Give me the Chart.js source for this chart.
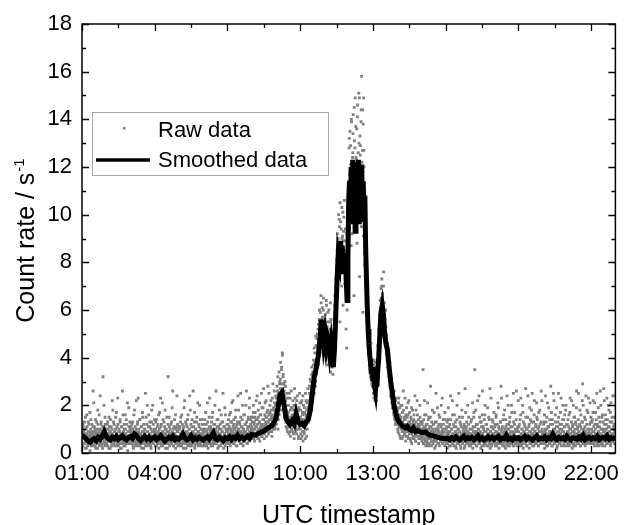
<!DOCTYPE html>
<html>
<head>
<meta charset="utf-8">
<script src="https://cdn.jsdelivr.net/npm/chart.js@4.4.1/dist/chart.umd.min.js"></script>
<style>
html,body{margin:0;padding:0;background:#fff;}
canvas{display:block;}
</style>
</head>
<body>
<canvas id="c" width="627" height="525"></canvas>
<script>
// ---------- DATA ----------
const xTickLabels = ['01:00','04:00','07:00','10:00','13:00','16:00','19:00','22:00'];
const yTickValues = [0,2,4,6,8,10,12,14,16,18];
const xTitle = 'UTC timestamp';
const yTitle = 'Count rate / s';
const yTitleSup = '-1';
const legendLabels = ['Raw data','Smoothed data'];

// raw count rate, set A: one value per minute starting at HH:00
const raw01 = [0.5,0.9,0.3,1.1,0.7,0.4,1.3,0.6,0.8,0.2,1.0,0.5,1.6,0.7,0.3,0.9,0.6,1.2,0.4,0.8,0.1,0.7,1.4,0.5,0.9,0.6,0.3,1.1,0.8,2.1,0.4,0.7,1.0,0.5,0.2,0.9,1.3,0.6,0.4,1.8,0.7,0.5,1.0,0.3,0.8,2.4,0.6,1.2,0.4,0.9,0.7,0.2,3.2,0.6,1.1,0.5,0.8,1.5,0.3,0.7];
const raw02 = [0.8,0.4,1.2,0.6,0.3,1.0,0.7,1.5,0.5,0.9,0.2,0.6,1.1,0.8,0.4,2.2,0.7,0.5,1.3,0.6,0.9,0.3,0.7,1.0,0.5,1.7,0.8,0.4,0.6,1.2,0.3,0.9,0.5,0.7,1.4,0.2,0.8,0.6,1.1,0.4,2.6,0.7,0.5,0.9,0.3,1.0,0.6,1.6,0.8,0.4,0.7,1.2,0.5,0.1,0.9,0.6,1.9,0.7,0.4,1.0];
const raw03 = [0.6,1.1,0.4,0.8,0.5,1.3,0.7,0.2,0.9,0.6,1.8,0.5,0.8,0.3,1.0,0.7,0.4,1.2,0.6,2.3,0.9,0.5,0.7,1.4,0.3,0.8,0.6,1.1,0.4,0.7,1.5,0.5,0.9,0.2,0.6,1.0,0.8,2.5,0.4,0.7,1.2,0.5,0.3,0.9,0.6,1.6,0.7,0.4,1.1,0.8,0.5,0.2,1.3,0.6,0.9,2.0,0.4,0.7,1.0,0.6];
const raw04 = [0.7,0.3,1.0,0.6,1.4,0.5,0.8,0.4,1.2,0.9,0.2,0.6,1.7,0.7,0.5,1.1,0.3,0.8,0.6,2.1,0.4,0.9,0.7,1.3,0.5,0.6,1.0,0.2,0.8,0.5,1.5,0.7,0.4,3.2,0.6,0.9,1.1,0.3,0.7,0.5,1.2,0.8,0.4,1.9,0.6,0.7,0.3,1.0,0.5,1.4,0.8,0.6,0.2,1.1,0.7,2.4,0.5,0.9,0.4,0.6];
const raw05 = [0.5,1.0,0.7,0.3,1.3,0.6,0.8,1.6,0.4,0.9,0.6,0.2,1.1,0.7,2.2,0.5,0.8,0.4,1.2,0.6,0.9,1.4,0.3,0.7,0.5,1.0,0.8,0.6,1.8,0.4,0.7,0.3,1.1,0.6,0.9,2.6,0.5,0.8,1.3,0.2,0.6,1.0,0.7,0.4,1.5,0.8,0.5,0.9,0.3,1.2,0.7,2.0,0.6,0.4,1.0,0.8,0.5,1.4,0.7,0.3];
const raw06 = [0.8,0.5,1.2,0.6,0.3,1.0,1.7,0.7,0.4,0.9,0.6,1.3,0.2,0.8,0.5,1.1,2.3,0.7,0.4,1.0,0.6,0.9,1.5,0.3,0.7,0.5,1.2,0.8,0.6,2.0,0.4,1.0,0.7,0.5,1.4,0.9,0.2,0.6,1.1,0.8,1.8,0.5,0.7,0.3,1.0,0.6,1.3,0.9,0.4,2.5,0.7,0.5,1.1,0.8,0.3,1.6,0.6,0.9,0.4,1.0];
const raw07 = [0.6,1.2,0.8,0.4,1.0,1.6,0.7,0.3,1.3,0.9,0.5,2.1,0.8,0.6,1.1,0.4,1.4,0.7,1.0,0.5,1.8,0.9,0.3,1.2,0.7,0.6,2.4,0.8,1.0,0.5,1.3,0.7,0.4,1.5,0.9,0.6,1.1,2.0,0.8,0.3,1.0,0.7,1.6,0.5,1.2,0.9,0.6,2.6,0.8,0.4,1.1,1.4,0.7,0.5,1.9,0.9,0.6,1.2,0.8,1.5];
const raw08 = [0.9,1.3,0.6,1.0,1.7,0.7,1.2,0.5,1.5,0.8,1.1,2.2,0.7,1.4,0.9,0.6,1.8,1.0,0.8,1.3,0.5,1.6,1.1,0.9,2.5,0.7,1.2,1.0,1.9,0.8,1.4,0.6,1.1,2.1,0.9,1.5,1.2,0.7,1.7,1.0,2.8,1.3,0.8,1.6,1.1,2.0,0.9,1.4,1.8,1.2,0.7,2.3,1.5,1.0,1.9,1.3,2.6,1.1,1.6,2.0];
const raw09 = [1.8,1.2,2.1,1.5,2.6,1.0,1.9,2.4,1.6,2.9,2.2,3.1,1.8,2.7,3.6,2.3,4.1,2.9,3.3,2.0,2.6,1.7,3.0,1.4,2.2,1.1,1.8,2.5,0.9,1.6,1.2,2.0,0.8,1.5,1.1,2.3,0.7,1.4,1.9,1.0,1.6,0.9,2.2,1.3,1.8,0.6,2.7,1.5,1.1,2.0,1.3,0.8,1.7,2.4,1.0,1.5,0.7,1.9,1.2,2.1];
const raw10 = [1.0,1.8,0.6,1.4,2.2,0.9,1.6,0.5,2.0,1.3,0.8,1.7,1.2,2.5,1.0,1.5,0.7,2.1,1.4,1.9,1.3,2.2,1.6,2.8,1.9,2.4,3.0,2.1,3.3,2.6,2.3,3.4,2.8,3.9,3.1,2.5,4.2,3.6,3.0,4.5,3.3,4.8,3.9,4.4,5.2,3.7,4.6,5.6,4.1,5.0,5.9,4.6,6.3,5.3,4.9,5.7,4.2,6.0,5.1,4.4];
const raw11 = [5.3,4.1,5.8,4.6,3.9,6.2,4.8,5.5,3.7,5.0,4.4,6.0,3.8,5.2,4.7,3.4,5.6,4.2,4.9,3.6,4.6,3.3,4.0,5.1,4.4,5.9,6.6,5.4,7.3,6.8,8.1,7.0,9.2,7.8,8.6,10.0,8.3,9.5,5.5,8.8,9.7,7.6,8.4,10.3,8.0,9.1,6.2,8.9,9.9,7.8,8.5,7.3,9.4,6.8,8.1,4.4,6.0,8.7,9.6,10.8];
const raw12 = [11.2,12.8,9.4,13.5,10.6,12.1,8.7,13.9,11.5,10.0,12.6,14.2,10.9,6.6,13.1,11.8,14.9,10.3,12.4,9.6,13.6,11.0,14.6,12.2,10.5,15.1,11.7,7.4,13.3,12.9,10.8,14.4,15.8,11.4,12.7,5.9,13.8,14.9,12.0,8.4,9.2,10.4,7.5,8.1,6.3,7.0,5.4,6.1,4.9,5.6,4.3,3.7,5.0,4.1,3.2,4.6,3.5,2.9,3.8,3.3];
const raw13 = [3.4,2.5,3.9,2.8,3.1,2.2,3.6,2.7,3.3,2.4,3.9,3.2,4.5,3.7,5.2,4.6,5.8,5.0,6.4,5.6,6.9,5.9,7.3,6.1,6.7,5.5,7.0,5.8,6.3,5.1,5.6,4.7,5.3,4.2,4.9,3.9,4.6,4.0,3.5,4.3,3.4,3.0,3.8,2.7,3.2,2.5,2.9,2.1,2.6,2.3,1.9,2.4,1.6,2.1,1.4,1.8,2.2,1.3,1.7,1.5];
const raw14 = [1.2,1.8,0.9,1.5,2.3,1.1,1.6,0.7,1.4,2.0,1.0,1.3,0.6,1.7,1.1,2.6,0.9,1.2,1.5,0.8,1.4,0.5,1.1,1.9,0.9,1.2,0.7,1.6,1.0,2.2,0.8,1.3,0.6,1.1,1.5,0.9,0.4,1.2,1.8,0.7,1.0,1.4,0.6,0.9,2.4,1.1,0.5,1.3,0.8,1.0,1.6,0.7,1.2,0.4,0.9,1.1,2.0,0.6,1.3,0.8];
const raw15 = [0.9,0.5,1.3,0.7,3.5,0.4,1.1,0.8,1.6,0.6,1.0,0.3,1.2,0.9,0.5,2.1,0.7,1.4,0.6,1.0,0.4,0.8,1.5,0.6,1.1,0.3,0.9,1.8,0.7,0.5,1.2,0.6,0.9,0.2,1.3,0.7,2.5,0.5,1.0,0.8,0.4,1.1,0.6,1.6,0.9,0.3,0.7,1.2,0.5,2.0,0.8,0.6,1.0,0.4,1.4,0.7,0.5,0.9,1.7,0.6];
const raw16 = [0.7,0.4,1.1,0.6,0.2,0.9,1.4,0.5,0.8,0.3,1.2,0.6,2.4,0.7,0.5,1.0,0.4,1.6,0.8,0.6,0.3,1.1,0.7,0.5,1.3,0.9,0.2,0.6,2.0,0.8,0.5,1.0,0.4,0.7,1.5,0.6,0.3,1.2,0.8,0.5,1.8,0.7,0.4,0.9,0.6,1.1,0.2,0.8,2.7,0.5,1.0,0.6,1.3,0.4,0.7,0.9,0.5,1.5,0.3,0.8];
const raw17 = [0.6,1.0,0.3,0.8,1.4,0.5,0.7,0.2,1.1,0.6,1.7,0.4,3.5,0.9,0.5,0.7,1.2,0.3,0.8,2.2,0.6,1.0,0.4,0.7,1.5,0.5,0.9,0.2,1.3,0.6,0.8,2.6,0.5,1.1,0.7,0.3,0.9,1.6,0.6,0.4,1.2,0.7,0.5,1.0,1.9,0.3,0.8,0.6,1.4,0.5,0.2,0.9,2.3,0.7,1.1,0.4,0.6,1.3,0.8,0.5];
const raw18 = [0.8,0.5,1.2,0.3,0.7,1.6,0.6,0.9,0.4,2.1,0.6,1.1,0.2,0.8,0.5,1.3,0.7,2.8,0.4,1.0,0.6,0.3,1.4,0.8,0.5,0.9,1.8,0.6,0.2,1.1,0.7,0.4,2.4,0.6,1.0,0.5,1.2,0.8,0.3,1.5,0.6,0.9,0.4,2.0,0.7,1.1,0.5,0.3,1.3,0.8,0.6,1.7,0.4,0.9,0.5,2.6,0.7,1.0,0.3,0.6];
const raw19 = [0.5,1.1,0.7,0.3,1.4,0.6,2.3,0.8,0.4,1.0,0.6,1.7,0.2,0.9,0.5,1.2,0.7,0.4,2.7,0.6,1.0,0.3,0.8,1.5,0.5,0.7,1.1,0.2,1.9,0.6,0.9,0.4,1.3,0.7,2.5,0.5,0.8,1.0,0.3,1.6,0.6,0.9,0.4,1.2,0.7,2.1,0.5,1.4,0.8,0.3,1.1,0.6,0.9,1.8,0.4,0.7,1.3,0.5,2.2,0.8];
const raw20 = [0.6,0.9,0.4,1.3,0.7,0.2,1.0,2.4,0.5,0.8,1.5,0.6,0.3,1.1,0.7,1.9,0.5,0.9,0.4,1.2,2.8,0.6,0.8,0.3,1.4,0.7,0.5,1.0,2.2,0.6,0.4,1.6,0.8,0.5,1.1,0.2,0.9,0.7,1.3,2.5,0.6,0.4,1.0,0.8,1.7,0.5,0.3,1.2,0.7,0.9,2.0,0.6,1.4,0.4,0.8,1.1,0.5,1.8,0.7,0.3];
const raw21 = [0.7,1.2,0.4,0.9,0.6,1.6,0.3,1.0,2.3,0.5,0.8,1.3,0.6,0.2,1.1,0.7,2.0,0.4,0.9,1.5,0.6,0.3,1.2,0.8,2.6,0.5,1.0,0.7,1.4,0.4,0.9,0.6,1.8,0.3,1.1,0.7,0.5,1.3,2.2,2.9,0.8,0.4,1.0,0.6,1.5,0.3,0.9,2.4,0.7,1.2,0.5,0.8,1.7,0.6,0.4,1.0,0.7,2.1,0.5,1.3];
const raw22 = [0.6,1.0,0.4,1.4,0.7,2.2,0.5,0.9,0.3,1.2,0.8,1.7,0.5,0.6,2.5,0.4,1.1,0.7,0.9,1.5,0.3,0.8,1.3,0.6,2.0,0.5,1.0,0.4,1.6,0.7,0.9,2.7,0.5,1.2,0.3,0.8,1.4,0.6,1.0,2.3,0.4,0.7,1.1,0.5,1.8,0.9,0.6,1.3,0.3,2.1,0.8,0.5,1.5,0.7,1.0,2.4,0.6,1.2,0.4,0.9];

// raw count rate, set B: one value per minute starting at HH:00:30
const rawB01 = [0.8,0.3,1.2,0.6,0.9,0.4,1.0,0.7,1.5,0.5,0.2,0.8,1.1,0.6,0.4,1.3,0.7,0.9,0.5,1.7,0.6,1.0,0.3,0.8,1.2,0.4,0.7,2.6,0.5,0.9,1.1,0.6,0.3,1.4,0.8,0.5,1.0,0.7,0.2,1.2,0.6,0.9,1.6,0.4,0.7,1.0,0.5,1.3,0.8,0.3,0.6,1.1,0.9,0.4,2.0,0.7,0.5,1.2,0.6,1.0];
const rawB02 = [0.4,1.0,0.7,1.3,0.5,0.8,0.2,1.1,0.6,0.9,1.4,0.5,0.7,0.3,1.0,0.8,1.8,0.6,0.4,1.2,0.7,0.9,0.5,1.5,0.3,0.8,1.1,0.6,2.3,0.7,0.5,1.0,0.4,0.9,1.3,0.6,0.8,0.2,1.1,0.7,0.5,1.6,0.9,0.4,1.2,0.6,0.3,1.0,0.8,1.4,0.5,0.7,2.1,0.6,0.9,0.4,1.1,0.7,1.3,0.5];
const rawB03 = [0.9,0.4,0.7,1.2,0.5,1.0,0.3,0.8,1.6,0.6,0.4,1.1,0.7,0.9,2.2,0.5,0.8,1.3,0.3,0.6,1.0,0.7,0.4,1.4,0.8,0.5,1.1,0.2,0.9,1.7,0.6,0.4,1.2,0.8,0.5,1.0,0.7,0.3,1.5,0.6,0.9,2.0,0.4,0.7,1.1,0.5,0.8,1.3,0.6,0.3,1.0,0.7,1.8,0.5,0.9,0.4,1.2,0.6,0.8,1.4];
const rawB04 = [0.5,0.9,1.3,0.6,0.3,0.8,1.1,0.7,0.4,1.6,0.6,1.0,0.5,0.8,2.3,0.4,1.2,0.7,0.9,0.3,1.4,0.6,0.8,0.5,1.1,1.8,0.7,0.4,1.0,0.6,0.9,0.2,1.2,0.7,0.5,1.5,0.8,0.6,1.0,0.4,0.7,1.3,0.5,0.9,2.6,0.6,0.3,1.1,0.8,0.7,0.5,1.6,0.4,1.0,0.6,0.9,1.2,0.3,0.7,1.1];
const rawB05 = [0.7,0.4,1.1,0.8,1.5,0.6,0.3,0.9,1.2,0.5,1.0,0.7,1.9,0.4,0.8,0.6,1.3,0.2,0.9,0.7,1.1,0.5,1.6,0.8,0.4,1.0,2.4,0.6,0.3,1.2,0.8,0.5,1.4,0.7,0.9,0.4,1.1,0.6,1.7,0.3,0.8,1.0,0.5,1.3,0.7,0.6,2.1,0.4,0.9,1.1,0.5,0.8,1.4,0.6,0.3,1.0,0.7,1.2,0.5,0.9];
const rawB06 = [0.6,1.0,0.4,1.4,0.7,0.9,0.5,1.2,0.3,0.8,2.1,0.6,1.0,0.4,1.5,0.7,0.5,0.9,1.1,0.3,1.3,0.6,0.8,1.7,0.4,1.0,0.7,0.5,1.2,0.9,0.6,2.6,0.4,0.8,1.1,0.5,1.4,0.7,0.3,1.0,0.6,1.2,0.8,0.5,1.6,0.4,0.9,0.7,1.3,0.6,0.2,1.1,0.8,1.9,0.5,0.7,1.0,0.4,1.2,0.7];
const rawB07 = [0.9,0.5,1.4,0.7,1.1,0.4,0.8,1.7,0.6,1.0,1.3,0.5,0.9,2.2,0.7,1.2,0.4,1.0,0.8,1.5,0.6,1.1,0.9,0.3,1.3,0.7,1.0,1.8,0.5,0.9,1.2,0.6,2.5,0.8,1.1,0.4,1.4,0.7,1.0,0.6,1.6,0.9,0.5,1.2,0.8,2.0,0.7,1.3,0.4,1.0,0.8,1.5,0.6,1.1,2.3,0.9,0.7,1.4,1.0,0.8];
const rawB08 = [1.1,0.8,1.5,0.9,2.0,0.6,1.3,1.0,1.7,0.7,1.4,1.1,0.8,2.4,1.2,0.9,1.5,0.6,1.3,2.1,1.0,0.8,1.6,1.2,0.7,1.9,1.1,1.4,0.9,2.7,1.2,0.8,1.6,1.0,1.3,2.2,0.9,1.5,1.1,1.8,1.3,0.9,2.5,1.4,1.0,1.7,1.2,2.2,1.5,0.9,1.6,1.3,2.9,1.1,1.8,1.4,2.1,1.0,1.7,2.4];
const rawB09 = [2.3,1.6,2.8,1.9,3.2,1.4,2.5,3.4,2.0,3.0,2.7,3.8,2.1,3.5,2.9,4.2,2.4,3.2,2.2,2.9,1.9,2.4,1.5,2.8,1.3,2.0,1.7,1.0,2.3,1.4,1.7,1.1,2.5,1.3,0.9,1.8,1.2,2.6,1.0,1.5,1.9,1.2,1.4,0.8,2.0,1.6,1.1,2.3,0.9,1.7,1.4,2.2,1.0,1.6,1.3,0.6,1.8,1.1,2.5,1.4];
const rawB10 = [1.5,0.8,2.1,1.2,0.7,1.7,2.4,1.1,1.4,0.9,1.9,1.3,0.6,1.6,2.2,1.2,1.8,1.0,2.7,1.6,1.9,1.5,2.5,2.0,3.1,2.3,2.7,1.8,3.6,2.9,3.2,2.6,3.7,2.9,4.4,3.3,3.8,2.8,4.9,3.5,4.5,3.6,5.0,4.2,3.8,5.4,4.3,6.0,4.8,5.5,5.2,6.6,4.7,5.6,6.1,4.5,5.4,6.5,4.8,5.5];
const rawB11 = [4.6,5.6,4.3,5.1,6.4,4.4,5.3,4.0,5.9,4.5,5.1,4.0,5.5,4.3,6.3,4.9,3.9,5.0,4.5,4.1,3.8,5.0,4.5,4.0,4.8,6.2,5.3,6.9,6.0,7.8,7.4,8.5,6.6,9.0,8.2,7.3,9.8,8.0,10.5,7.7,8.3,9.4,7.0,9.0,8.6,10.1,7.9,9.3,8.2,10.6,7.1,8.9,7.7,5.2,9.2,7.0,8.3,6.6,10.2,11.4];
const rawB12 = [10.4,13.2,11.7,9.8,12.9,10.9,14.0,11.3,9.2,12.4,13.4,10.2,11.9,14.5,9.9,12.8,11.1,13.7,10.6,12.3,8.8,14.1,11.4,12.6,9.7,13.0,14.9,10.8,12.5,11.6,13.9,9.5,12.2,10.1,14.4,11.8,9.1,12.7,10.3,7.9,10.1,8.6,9.4,6.8,7.7,5.9,6.6,5.1,5.8,4.5,4.9,3.9,4.4,3.6,4.2,3.1,3.7,3.4,2.8,3.9];
const rawB13 = [2.9,3.7,2.3,3.3,2.6,3.8,2.5,3.2,2.2,2.9,3.5,2.8,4.2,3.4,4.8,4.1,5.5,4.7,6.0,5.2,6.5,7.0,5.6,6.6,5.3,6.2,7.6,5.7,6.0,5.4,5.1,6.0,4.5,5.0,4.1,4.6,3.6,4.4,3.8,3.2,3.7,2.8,3.3,2.4,3.0,2.8,2.3,2.7,1.9,2.5,2.0,1.7,2.6,1.5,2.0,1.2,1.7,2.3,1.4,1.9];
const rawB14 = [1.6,1.0,1.3,2.1,0.8,1.4,1.9,1.1,0.6,1.5,1.2,2.0,0.9,1.3,0.7,1.8,1.1,1.4,0.8,2.3,1.0,1.6,0.7,1.2,1.5,0.9,2.1,0.6,1.3,1.0,1.7,0.9,1.2,0.5,1.4,1.9,0.8,1.1,0.6,1.3,0.9,1.6,0.7,1.2,1.0,0.5,1.8,0.8,1.1,2.2,0.7,1.0,1.4,0.6,1.2,0.9,1.5,0.7,1.0,1.3];
const rawB15 = [0.7,1.2,0.6,1.0,0.4,1.4,0.8,2.2,0.5,1.1,0.7,1.6,0.9,0.4,1.2,0.6,1.0,0.3,1.5,0.8,1.1,0.6,2.8,0.9,0.5,1.3,0.7,1.0,0.4,1.2,0.8,1.7,0.5,1.0,0.7,0.3,1.3,0.9,0.6,1.9,0.7,1.0,0.4,1.2,0.6,1.5,0.8,0.5,1.1,0.7,0.9,2.3,0.4,0.8,1.2,0.6,1.0,0.3,1.4,0.7];
const rawB16 = [0.5,1.0,0.8,1.3,0.4,0.7,1.9,0.6,1.1,0.5,0.9,0.3,1.4,0.7,1.0,0.6,2.2,0.4,0.8,1.2,0.6,1.6,0.5,0.9,0.3,1.1,0.7,1.4,0.4,0.8,1.0,0.6,2.5,0.5,0.9,1.3,0.7,0.2,1.1,0.6,0.8,1.5,0.4,1.0,0.7,1.2,0.5,0.3,0.9,1.7,0.6,1.1,0.4,0.8,2.0,0.6,1.2,0.7,0.4,1.0];
const rawB17 = [0.8,0.5,1.3,0.7,0.4,1.0,2.1,0.6,0.9,1.5,0.4,0.8,1.1,0.6,1.8,0.3,0.9,0.7,1.2,0.5,1.0,0.6,2.4,0.4,0.8,1.3,0.7,0.5,1.1,0.3,1.6,0.8,0.6,1.0,0.4,1.4,0.7,2.0,0.5,0.9,0.6,1.2,0.3,0.8,1.0,0.5,1.5,0.7,0.4,2.7,0.9,0.6,1.1,0.3,0.8,1.4,0.5,1.0,0.7,1.7];
const rawB18 = [0.6,1.1,0.4,0.9,1.5,0.7,0.3,1.2,0.8,0.5,1.9,0.6,1.0,0.4,0.8,1.3,0.6,0.9,2.3,0.5,1.1,0.7,0.4,1.6,0.8,0.3,1.0,0.6,1.4,0.5,0.9,1.2,0.7,0.3,2.0,0.6,1.0,0.4,1.3,0.8,0.5,1.1,0.7,1.7,0.4,0.9,0.6,2.5,0.8,0.3,1.2,0.5,1.0,0.7,1.4,0.4,0.9,0.6,1.1,2.2];
const rawB19 = [0.9,0.4,1.2,0.7,0.5,1.6,0.8,0.3,1.0,0.6,2.0,0.5,1.3,0.7,0.9,0.4,1.1,0.6,1.5,0.8,0.3,1.0,0.6,2.4,0.7,0.5,1.2,0.9,0.4,1.4,0.6,0.8,1.8,0.5,1.0,0.3,0.7,1.3,0.6,2.2,0.9,0.5,1.1,0.7,0.4,1.5,0.8,0.6,1.0,0.3,1.7,0.7,0.5,1.2,0.9,0.4,2.6,0.6,1.0,0.7];
const rawB20 = [0.8,0.5,1.2,0.7,1.6,0.4,0.9,0.6,1.3,0.3,1.0,2.1,0.7,0.5,1.1,0.8,0.4,1.4,0.6,0.9,0.5,1.7,0.8,0.3,1.2,0.6,2.5,0.9,0.4,1.0,0.7,1.3,0.5,0.8,1.9,0.6,0.3,1.1,0.7,1.5,0.9,0.5,1.2,0.4,0.8,2.3,0.6,1.0,0.7,1.4,0.5,0.9,0.3,1.1,1.6,0.6,0.8,2.0,0.5,1.2];
const rawB21 = [0.5,0.9,1.4,0.6,1.1,0.4,0.8,1.7,0.5,1.0,0.7,2.2,0.4,0.9,1.2,0.6,0.3,1.5,0.8,1.0,0.5,1.3,0.7,1.9,0.4,0.8,1.1,0.6,2.5,0.9,0.5,1.2,0.7,0.3,1.6,0.8,1.0,0.6,1.3,0.4,2.0,0.7,0.9,0.5,1.1,1.4,0.6,0.8,0.4,1.8,0.7,1.0,0.5,2.3,0.9,0.6,1.2,0.4,0.8,1.5];
const rawB22 = [0.8,1.3,0.5,0.9,1.7,0.6,1.1,0.4,2.1,0.7,1.0,0.5,1.4,0.8,0.3,1.2,0.6,1.9,0.9,0.5,1.1,0.7,2.6,0.4,1.0,0.8,1.5,0.6,0.3,1.3,0.7,1.0,2.2,0.5,0.9,1.6,0.6,1.2,0.4,0.8,1.4,0.7,2.0,0.5,1.1,0.9,0.6,1.7,0.4,1.0,0.7,1.3,0.5,2.4,0.8,1.1,0.6,1.5,0.9,0.7];

const rawSetA = [raw01,raw02,raw03,raw04,raw05,raw06,raw07,raw08,raw09,raw10,raw11,raw12,raw13,raw14,raw15,raw16,raw17,raw18,raw19,raw20,raw21,raw22];
const rawSetB = [rawB01,rawB02,rawB03,rawB04,rawB05,rawB06,rawB07,rawB08,rawB09,rawB10,rawB11,rawB12,rawB13,rawB14,rawB15,rawB16,rawB17,rawB18,rawB19,rawB20,rawB21,rawB22];

// smoothed rate, every 5 min from 01:00 to 08:00
const smoothEarly = [0.75,0.68,0.6,0.5,0.45,0.55,0.6,0.52,0.66,0.58,0.7,0.9,
0.7,0.6,0.55,0.66,0.6,0.7,0.58,0.64,0.72,0.6,0.55,0.66,
0.7,0.62,0.8,0.74,0.6,0.52,0.62,0.7,0.58,0.66,0.55,0.63,
0.68,0.56,0.62,0.72,0.6,0.5,0.58,0.66,0.6,0.7,0.56,0.62,
0.58,0.66,0.8,0.62,0.55,0.6,0.72,0.56,0.64,0.58,0.66,0.6,
0.54,0.62,0.68,0.58,0.7,0.84,0.6,0.56,0.66,0.6,0.52,0.64,
0.6,0.68,0.56,0.66,0.62,0.74,0.6,0.66,0.58,0.64,0.7,0.62,
0.78];
// smoothed rate during the event: [minutes since 00:00 UTC, rate]
const smoothEvent = [
[490,0.75],[500,0.85],[510,0.92],[520,1.05],[530,1.15],[535,1.28],[540,1.45],[545,1.9],[550,2.45],[555,2.55],
[560,2.0],[565,1.45],[570,1.3],[575,1.2],[580,1.35],[585,1.2],[590,1.65],[595,1.3],[600,1.2],[605,1.25],
[610,1.15],[615,1.3],[620,1.4],[625,1.8],[630,2.5],[635,3.2],[640,3.6],[645,4.1],[650,5.0],[652,5.6],
[655,5.2],[658,4.6],[661,5.0],[664,4.5],[667,4.9],[670,4.7],[673,4.2],[676,4.6],[679,4.0],[682,3.6],
[685,4.4],[688,5.8],[691,7.2],[694,8.3],[697,8.0],[700,8.9],[702,7.9],[704,8.7],[706,7.6],[708,8.4],
[710,7.7],[712,8.2],[714,7.2],[716,6.4],[718,8.2],[720,10.6],[722,11.4],[724,9.6],[726,12.0],[728,10.1],
[730,12.3],[732,9.8],[734,11.8],[736,9.3],[738,11.0],[740,12.2],[742,10.2],[744,12.3],[746,9.6],[748,11.9],
[750,10.4],[752,12.1],[754,10.6],[756,11.4],[758,9.8],[760,10.8],[762,8.6],[764,7.3],[766,6.1],[768,5.2],
[770,4.6],[772,4.1],[774,3.8],[776,3.3],[778,3.6],[780,3.0],[782,3.4],[784,2.8],[786,2.6],[788,3.1],
[790,2.8],[792,3.5],[794,3.9],[796,4.6],[798,5.3],[800,5.9],[803,6.2],[806,5.8],[809,5.0],[812,4.6],
[816,4.3],[820,3.6],[824,3.0],[828,2.5],[832,2.0],[836,1.7],[840,1.45],[845,1.3],[850,1.2],[855,1.1],
[860,1.05],[865,1.12],[870,1.0],[875,0.95],[880,1.05],[885,0.9],[890,0.95],[900,0.85],[910,0.88],[920,0.75],
[930,0.72],[940,0.66],[950,0.62],[960,0.6]
];
// smoothed rate, every 5 min from 16:05 to 23:00
const smoothLate = [0.62,0.56,0.64,0.58,0.68,0.6,0.55,0.62,0.7,0.58,0.64,
0.6,0.66,0.56,0.62,0.72,0.58,0.64,0.55,0.6,0.68,0.6,0.66,
0.58,0.64,0.7,0.56,0.62,0.6,0.74,0.58,0.62,0.55,0.66,0.6,
0.64,0.56,0.62,0.7,0.58,0.66,0.6,0.54,0.64,0.72,0.58,0.62,
0.6,0.68,0.56,0.64,0.6,0.78,0.62,0.56,0.66,0.6,0.64,0.58,
0.7,0.6,0.55,0.64,0.62,0.58,0.68,0.6,0.74,0.56,0.62,0.66,
0.58,0.64,0.6,0.7,0.56,0.62,0.66,0.6,0.72,0.58,0.64,0.6,
0.66];

// ---------- BUILD ----------
const toHours = s => { const p = s.split(':'); return +p[0] + (+p[1]) / 60; };
const rawPts = [];
rawSetA.forEach((arr, h) => arr.forEach((v, i) => rawPts.push({ x: h + 1 + i / 60, y: v })));
rawSetB.forEach((arr, h) => arr.forEach((v, i) => rawPts.push({ x: h + 1 + (i + 0.5) / 60, y: v })));
const smoothPts = [];
smoothEarly.forEach((v, i) => smoothPts.push({ x: 1 + i * 5 / 60, y: v }));
smoothEvent.forEach(p => smoothPts.push({ x: p[0] / 60, y: p[1] }));
smoothLate.forEach((v, i) => smoothPts.push({ x: 16 + (i + 1) * 5 / 60, y: v }));
const xMajor = xTickLabels.map(toHours);
const FONT = '"Liberation Sans", Arial, sans-serif';

const decor = {
  id: 'decor',
  afterDatasetsDraw(chart) {
    const { ctx, chartArea: a, scales } = chart;
    const xs = scales.x, ys = scales.y;
    ctx.save();
    ctx.strokeStyle = '#000';
    ctx.lineWidth = 1.3;
    ctx.beginPath();
    const xt = (h, len) => {
      const px = Math.round(xs.getPixelForValue(h)) + 0.5;
      ctx.moveTo(px, a.bottom); ctx.lineTo(px, a.bottom - len);
      ctx.moveTo(px, a.top); ctx.lineTo(px, a.top + len);
    };
    xMajor.forEach(h => { xt(h, 7); if (h + 1.5 < xs.max) xt(h + 1.5, 4); });
    for (let v = ys.min; v <= ys.max; v++) {
      const len = v % 2 === 0 ? 7 : 4;
      const py = Math.round(ys.getPixelForValue(v)) + 0.5;
      ctx.moveTo(a.left, py); ctx.lineTo(a.left + len, py);
      ctx.moveTo(a.right, py); ctx.lineTo(a.right - len, py);
    }
    ctx.stroke();
    ctx.lineWidth = 1.5;
    ctx.strokeRect(a.left, a.top, a.right - a.left, a.bottom - a.top);

    // legend
    const lx = 92, ly = 112, lw = 236, lh = 63;
    ctx.fillStyle = '#fff';
    ctx.fillRect(lx, ly, lw, lh);
    ctx.strokeStyle = '#a8a8a8';
    ctx.lineWidth = 1;
    ctx.strokeRect(lx + 0.5, ly + 0.5, lw, lh);
    ctx.fillStyle = '#808080';
    ctx.fillRect(123, 127, 2.5, 2.5);
    ctx.strokeStyle = '#000';
    ctx.lineWidth = 3.5;
    ctx.beginPath(); ctx.moveTo(96, 160); ctx.lineTo(150, 160); ctx.stroke();
    ctx.fillStyle = '#000';
    ctx.font = '22px ' + FONT;
    ctx.textAlign = 'left';
    ctx.textBaseline = 'alphabetic';
    ctx.fillText(legendLabels[0], 158, 137);
    ctx.fillText(legendLabels[1], 158, 167);

    // axis titles
    ctx.font = '25px ' + FONT;
    ctx.textAlign = 'center';
    ctx.fillText(xTitle, (a.left + a.right) / 2, 523);

    ctx.save();
    ctx.translate(34, (a.top + a.bottom) / 2 + 2);
    ctx.rotate(-Math.PI / 2);
    ctx.textAlign = 'left';
    ctx.font = '25px ' + FONT;
    const w1 = ctx.measureText(yTitle).width;
    ctx.font = '15px ' + FONT;
    const w2 = ctx.measureText(yTitleSup).width;
    const start = -(w1 + w2 + 1) / 2;
    ctx.font = '25px ' + FONT;
    ctx.fillText(yTitle, start, 0);
    ctx.font = '15px ' + FONT;
    ctx.fillText(yTitleSup, start + w1 + 1, -10);
    ctx.restore();

    ctx.restore();
  }
};

new Chart(document.getElementById('c'), {
  type: 'scatter',
  data: {
    datasets: [
      { label: legendLabels[1], data: smoothPts, showLine: true, borderColor: '#000', backgroundColor: '#000',
        borderWidth: 5, pointRadius: 0, pointHoverRadius: 0, tension: 0, order: 0 },
      { label: legendLabels[0], data: rawPts, pointStyle: 'rect', pointRadius: 2.0, pointHoverRadius: 2.0,
        backgroundColor: '#808080', borderWidth: 0, order: 1 }
    ]
  },
  options: {
    responsive: false,
    animation: false,
    devicePixelRatio: 1,
    events: [],
    layout: { padding: { top: 24, right: 7, left: 0, bottom: 0 } },
    plugins: { legend: { display: false }, tooltip: { enabled: false } },
    scales: {
      x: {
        type: 'linear', min: 1, max: 23,
        grid: { display: false, drawTicks: false },
        border: { display: false },
        afterBuildTicks: s => { s.ticks = xMajor.map(v => ({ value: v })); },
        afterFit: s => { s.height = 72; },
        ticks: {
          autoSkip: false, maxRotation: 0, padding: 8, color: '#000',
          font: { family: FONT, size: 22 },
          callback: (v, i) => xTickLabels[i]
        }
      },
      y: {
        type: 'linear', min: 0, max: 18,
        grid: { display: false, drawTicks: false },
        border: { display: false },
        afterBuildTicks: s => { s.ticks = yTickValues.map(v => ({ value: v })); },
        afterFit: s => { s.width = 82; },
        ticks: {
          autoSkip: false, padding: 10, color: '#000',
          font: { family: FONT, size: 22 },
          callback: v => String(v)
        }
      }
    }
  },
  plugins: [decor]
});
</script>
</body>
</html>
